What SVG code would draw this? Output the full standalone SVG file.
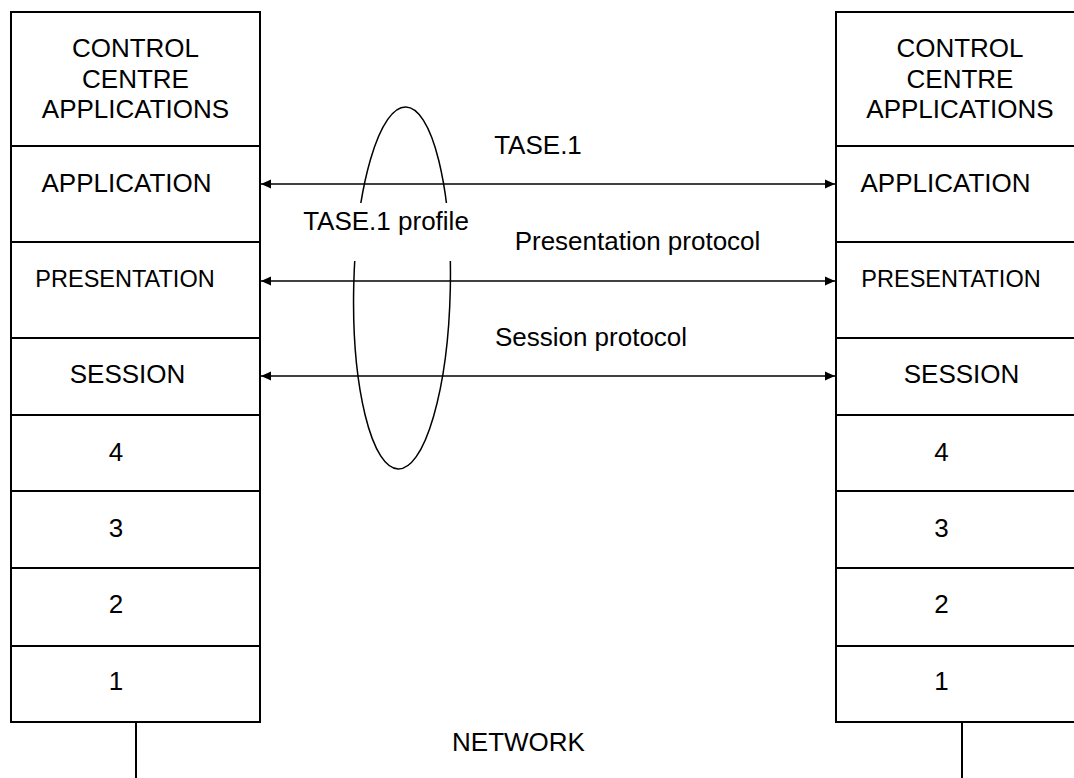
<svg xmlns="http://www.w3.org/2000/svg" width="1074" height="778" viewBox="0 0 1074 778">
<style>
.box{fill:none;stroke:#000;stroke-width:2}
.t{font-family:"Liberation Sans",Arial,sans-serif;font-size:26px;fill:#000;text-anchor:middle}
.ts{font-size:23.5px}
.conn{stroke:#000;stroke-width:1.5;fill:none}
</style>
<defs>
<marker id="ah" markerWidth="12" markerHeight="12" refX="10" refY="5" orient="auto-start-reverse" markerUnits="userSpaceOnUse">
<path d="M0,0.5 L10,5 L0,9.5 Z" fill="#000"/>
</marker>
</defs>
<rect width="1074" height="778" fill="#fff"/>

<g id="left-stack">
<g id="L-apps"><rect class="box" x="11" y="12" width="249" height="134"/>
<text class="t" x="135.5" y="57">CONTROL</text><text class="t" x="135.5" y="87.5">CENTRE</text><text class="t" x="135.5" y="118">APPLICATIONS</text></g>
<g id="L-application"><rect class="box" x="11" y="146" width="249" height="96"/><text class="t" x="126.5" y="192">APPLICATION</text></g>
<g id="L-presentation"><rect class="box" x="11" y="242" width="249" height="96"/><text class="t ts" x="125" y="286.5">PRESENTATION</text></g>
<g id="L-session"><rect class="box" x="11" y="338" width="249" height="77"/><text class="t" x="127.5" y="382.5">SESSION</text></g>
<g id="L-4"><rect class="box" x="11" y="415" width="249" height="76"/><text class="t" x="116" y="460.5">4</text></g>
<g id="L-3"><rect class="box" x="11" y="491" width="249" height="77"/><text class="t" x="116" y="537">3</text></g>
<g id="L-2"><rect class="box" x="11" y="568" width="249" height="78"/><text class="t" x="116" y="613">2</text></g>
<g id="L-1"><rect class="box" x="11" y="646" width="249" height="76"/><text class="t" x="116" y="690">1</text></g>
</g>

<g id="right-stack">
<g id="R-apps"><rect class="box" x="836" y="12" width="250" height="134"/>
<text class="t" x="960" y="57">CONTROL</text><text class="t" x="960" y="87.5">CENTRE</text><text class="t" x="960" y="118">APPLICATIONS</text></g>
<g id="R-application"><rect class="box" x="836" y="146" width="250" height="96"/><text class="t" x="945.5" y="192">APPLICATION</text></g>
<g id="R-presentation"><rect class="box" x="836" y="242" width="250" height="96"/><text class="t ts" x="951" y="286.5">PRESENTATION</text></g>
<g id="R-session"><rect class="box" x="836" y="338" width="250" height="77"/><text class="t" x="961.5" y="382.5">SESSION</text></g>
<g id="R-4"><rect class="box" x="836" y="415" width="250" height="76"/><text class="t" x="941.5" y="460.5">4</text></g>
<g id="R-3"><rect class="box" x="836" y="491" width="250" height="77"/><text class="t" x="941.5" y="537">3</text></g>
<g id="R-2"><rect class="box" x="836" y="568" width="250" height="78"/><text class="t" x="941.5" y="613">2</text></g>
<g id="R-1"><rect class="box" x="836" y="646" width="250" height="76"/><text class="t" x="941.5" y="690">1</text></g>
</g>

<g id="profile">
<ellipse class="conn" cx="402" cy="288" rx="48.3" ry="181" transform="rotate(1.2 402 288)"/>
<rect x="300" y="203" width="173" height="58" fill="#fff"/>
<text class="t" x="386" y="230">TASE.1 profile</text>
</g>

<g id="connectors">
<line class="conn" x1="261" y1="184" x2="835" y2="184" marker-start="url(#ah)" marker-end="url(#ah)"/>
<line class="conn" x1="261" y1="281" x2="835" y2="281" marker-start="url(#ah)" marker-end="url(#ah)"/>
<line class="conn" x1="261" y1="376" x2="835" y2="376" marker-start="url(#ah)" marker-end="url(#ah)"/>
<line x1="136" y1="722" x2="136" y2="778" stroke="#000" stroke-width="2"/>
<line x1="962" y1="722" x2="962" y2="778" stroke="#000" stroke-width="2"/>
</g>

<g id="labels">
<text class="t" x="538" y="153.5">TASE.1</text>
<text class="t" x="637.5" y="249.5">Presentation protocol</text>
<text class="t" x="591" y="345.5">Session protocol</text>
<text class="t" x="518.5" y="750.5">NETWORK</text>
</g>
</svg>
